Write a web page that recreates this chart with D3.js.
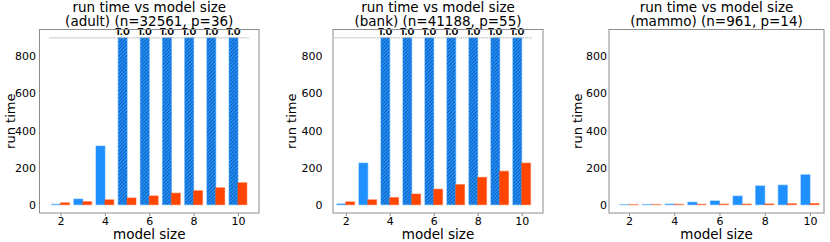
<!DOCTYPE html>
<html>
<head>
<meta charset="utf-8">
<script src="https://cdn.jsdelivr.net/npm/d3@7"></script>
<style>
  body { margin: 0; background: #fff; }
  svg { display: block; font-family: "DejaVu Sans", sans-serif; }
</style>
</head>
<body>
<svg id="chart" width="830" height="242"></svg>
<script>
const sizes = [2, 3, 4, 5, 6, 7, 8, 9, 10];
const timeout = 900;

// null = timed out (drawn hatched at the timeout line)
const adultBlue = [2, 30, 316, null, null, null, null, null, null];
const adultRed = [10, 16, 26, 36, 47, 62, 75, 91, 118];
const bankBlue = [4, 224, null, null, null, null, null, null, null];
const bankRed = [15, 26, 38, 57, 83, 108, 147, 180, 224];
const mammoBlue = [0.5, 1, 3, 13, 20, 46, 101, 105, 161];
const mammoRed = [1, 1, 2, 2, 3, 3, 4, 5, 6];

const yTicks = [0, 200, 400, 600, 800];
const xTicks = [2, 4, 6, 8, 10];

const panels = [
  {name: "adult", n: 32561, p: 36, blue: adultBlue, red: adultRed,
   left: 39.5, right: 259, xdom: [1.05, 10.95], pad: 3.5, ylab: 14.5},
  {name: "bank", n: 41188, p: 55, blue: bankBlue, red: bankRed,
   left: 333, right: 543, xdom: [1.42, 10.97], pad: 10.5, ylab: 296},
  {name: "mammo", n: 961, p: 14, blue: mammoBlue, red: mammoRed,
   left: 609, right: 824, xdom: [1.115, 10.62], pad: 2, ylab: 582}
];

const blue = "#1e90ff", red = "#ff4500";
const plotTop = 29.5, plotBottom = 213;

const svg = d3.select("#chart");

const defs = svg.append("defs");
const pat = defs.append("pattern")
  .attr("id", "hatch")
  .attr("patternUnits", "userSpaceOnUse")
  .attr("width", 3.5).attr("height", 3.5);
pat.append("rect").attr("width", 3.5).attr("height", 3.5).attr("fill", blue);
pat.append("path")
  .attr("d", "M-1,1 l2,-2 M0,3.5 l3.5,-3.5 M2.5,4.5 l2,-2")
  .attr("stroke", "#10305e").attr("stroke-width", 0.7);

const y = d3.scaleLinear().domain([-45, 945]).range([plotBottom, plotTop]);

panels.forEach(pn => {
  const x = d3.scaleLinear().domain(pn.xdom).range([pn.left, pn.right]);
  const bw = x(0.4) - x(0);
  const g = svg.append("g");

  // blue bars (normal)
  g.selectAll("rect.b")
    .data(sizes.map((s, i) => ({s, v: pn.blue[i]})).filter(d => d.v !== null))
    .join("rect")
    .attr("x", d => x(d.s - 0.4))
    .attr("y", d => y(d.v))
    .attr("width", bw)
    .attr("height", d => y(0) - y(d.v))
    .attr("fill", blue)
    .attr("stroke", blue).attr("stroke-opacity", 0.45).attr("stroke-width", 1.2);

  // timed-out bars
  const to = sizes.map((s, i) => ({s, v: pn.blue[i]})).filter(d => d.v === null);
  g.selectAll("rect.t")
    .data(to)
    .join("rect")
    .attr("x", d => x(d.s - 0.4))
    .attr("y", y(timeout))
    .attr("width", bw)
    .attr("height", y(0) - y(timeout))
    .attr("fill", "url(#hatch)")
    .attr("stroke", blue).attr("stroke-opacity", 0.45).attr("stroke-width", 1.2);

  // red bars
  g.selectAll("rect.r")
    .data(sizes.map((s, i) => ({s, v: pn.red[i]})))
    .join("rect")
    .attr("x", d => x(d.s))
    .attr("y", d => y(d.v))
    .attr("width", bw)
    .attr("height", d => y(0) - y(d.v))
    .attr("fill", red)
    .attr("stroke", red).attr("stroke-opacity", 0.45).attr("stroke-width", 1.2);

  if (to.length) {
    g.append("line")
      .attr("x1", x(1.5)).attr("x2", x(10.5))
      .attr("y1", y(timeout)).attr("y2", y(timeout))
      .attr("stroke", "#999").attr("stroke-width", 1)
      .attr("stroke-dasharray", "1,1");
    g.selectAll("text.to")
      .data(to)
      .join("text")
      .attr("x", d => x(d.s - 0.2))
      .attr("y", y(timeout) - 3)
      .attr("text-anchor", "middle")
      .attr("font-size", 8)
      .attr("font-weight", "bold")
      .text("T.O");
  }

  // frame
  g.append("rect")
    .attr("x", pn.left).attr("y", plotTop)
    .attr("width", pn.right - pn.left).attr("height", plotBottom - plotTop)
    .attr("fill", "none").attr("stroke", "#8c8c8c").attr("stroke-width", 1);

  // axes
  const xa = g.append("g")
    .attr("transform", `translate(0,${plotBottom})`)
    .call(d3.axisBottom(x).tickValues(xTicks).tickSize(3).tickPadding(1.5));
  xa.select(".domain").remove();
  xa.selectAll("line").attr("stroke", "#8c8c8c");
  xa.selectAll("text").attr("font-size", 11).attr("fill", "#000")
    .attr("font-family", "DejaVu Sans");

  const ya = g.append("g")
    .attr("transform", `translate(${pn.left},0)`)
    .call(d3.axisLeft(y).tickValues(yTicks).tickSize(0).tickPadding(pn.pad));
  ya.select(".domain").remove();
  ya.selectAll("text").attr("font-size", 11).attr("fill", "#000")
    .attr("font-family", "DejaVu Sans");

  // titles & labels
  const cx = (pn.left + pn.right) / 2;
  g.append("text").attr("x", cx).attr("y", 11.5)
    .attr("text-anchor", "middle").attr("font-size", 13.5)
    .text("run time vs model size");
  g.append("text").attr("x", cx).attr("y", 26)
    .attr("text-anchor", "middle").attr("font-size", 13.5)
    .text(`(${pn.name}) (n=${pn.n}, p=${pn.p})`);
  g.append("text").attr("x", cx).attr("y", 238.5)
    .attr("text-anchor", "middle").attr("font-size", 13.5)
    .text("model size");
  g.append("text")
    .attr("transform", `translate(${pn.ylab},${(plotTop + plotBottom) / 2}) rotate(-90)`)
    .attr("text-anchor", "middle").attr("font-size", 13)
    .text("run time");
});
</script>
</body>
</html>
